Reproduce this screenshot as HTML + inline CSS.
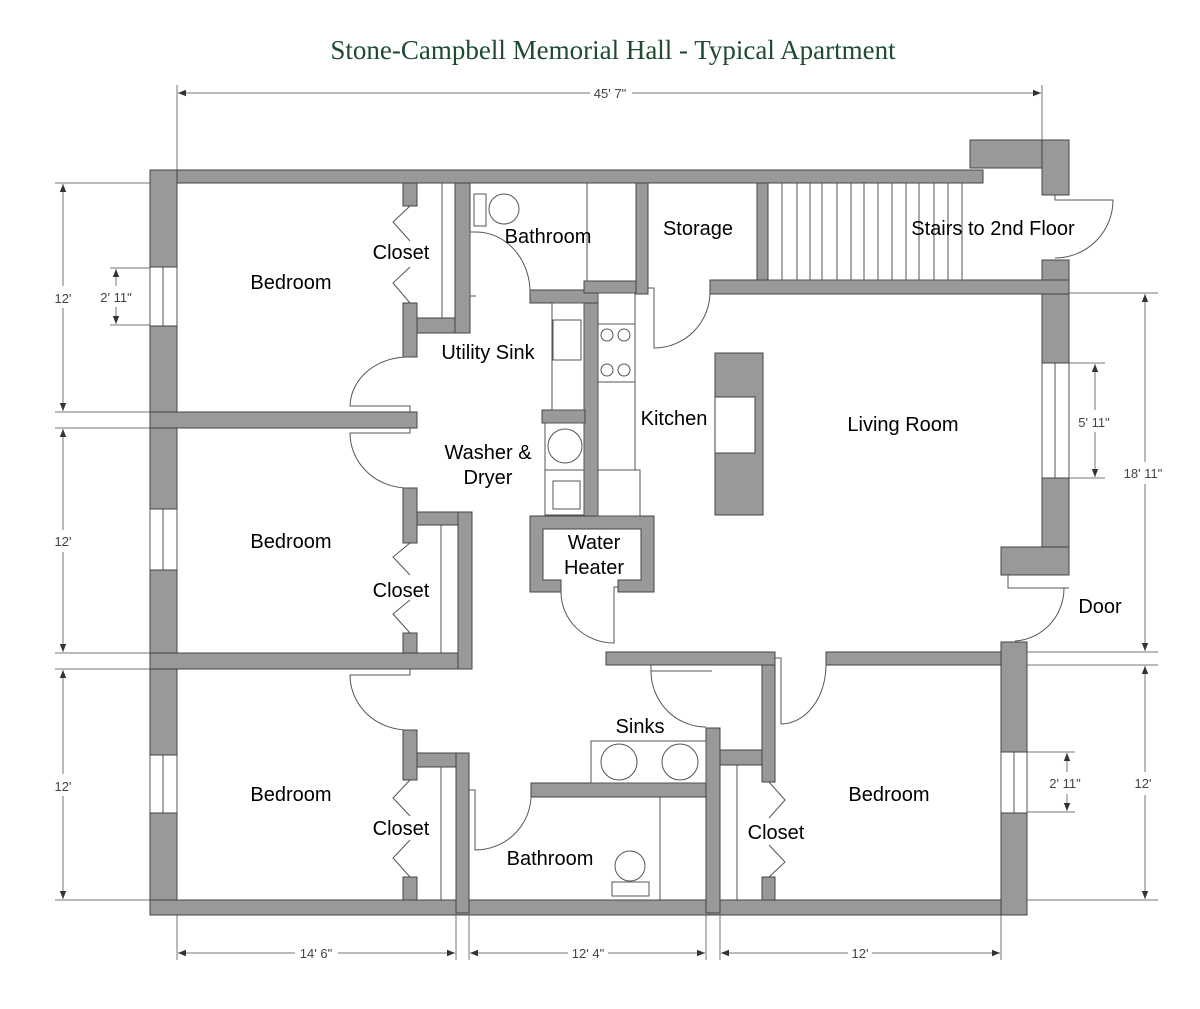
<!DOCTYPE html>
<html><head><meta charset="utf-8"><style>
html,body{margin:0;padding:0;background:#fff;}
svg{display:block;}
.w{fill:#999;stroke:#444;stroke-width:1;}
.l{fill:none;stroke:#555;stroke-width:1;}
.d{fill:none;stroke:#777;stroke-width:1;}
.t{font-family:"Liberation Sans",sans-serif;font-size:20px;fill:#000;text-anchor:middle;}
.s{font-family:"Liberation Sans",sans-serif;font-size:13px;fill:#444;text-anchor:middle;}
</style></head><body>
<svg width="1200" height="1009" viewBox="0 0 1200 1009" xmlns="http://www.w3.org/2000/svg">
<defs><marker id="a" viewBox="0 0 10 10" refX="10" refY="5" markerWidth="8" markerHeight="8" orient="auto-start-reverse"><path d="M0,1 L10,5 L0,9 z" fill="#333"/></marker></defs>
<text x="613" y="59" style="font-family:'Liberation Serif',serif;font-size:27px;fill:#1d4a30;text-anchor:middle">Stone-Campbell Memorial Hall - Typical Apartment</text>

<!-- dimension lines -->
<g class="d">
<line x1="177" y1="85" x2="177" y2="183"/><line x1="1042" y1="85" x2="1042" y2="140"/>
<line x1="178" y1="93" x2="590" y2="93" marker-start="url(#a)"/><line x1="632" y1="93" x2="1041" y2="93" marker-end="url(#a)"/>
<line x1="55" y1="183" x2="150" y2="183"/><line x1="55" y1="412" x2="150" y2="412"/><line x1="55" y1="428" x2="150" y2="428"/><line x1="55" y1="653" x2="150" y2="653"/><line x1="55" y1="669" x2="150" y2="669"/><line x1="55" y1="900" x2="150" y2="900"/>
<line x1="63" y1="184" x2="63" y2="286" marker-start="url(#a)"/><line x1="63" y1="308" x2="63" y2="411" marker-end="url(#a)"/>
<line x1="63" y1="429" x2="63" y2="530" marker-start="url(#a)"/><line x1="63" y1="552" x2="63" y2="652" marker-end="url(#a)"/>
<line x1="63" y1="670" x2="63" y2="774" marker-start="url(#a)"/><line x1="63" y1="796" x2="63" y2="899" marker-end="url(#a)"/>
<line x1="110" y1="268" x2="150" y2="268"/><line x1="110" y1="325" x2="150" y2="325"/>
<line x1="116" y1="269" x2="116" y2="286" marker-start="url(#a)"/><line x1="116" y1="307" x2="116" y2="324" marker-end="url(#a)"/>
<line x1="1069" y1="363" x2="1105" y2="363"/><line x1="1069" y1="478" x2="1105" y2="478"/>
<line x1="1095" y1="364" x2="1095" y2="410" marker-start="url(#a)"/><line x1="1095" y1="432" x2="1095" y2="477" marker-end="url(#a)"/>
<line x1="1069" y1="293" x2="1158" y2="293"/><line x1="1027" y1="652" x2="1158" y2="652"/><line x1="1027" y1="665" x2="1158" y2="665"/><line x1="1027" y1="900" x2="1158" y2="900"/>
<line x1="1145" y1="294" x2="1145" y2="462" marker-start="url(#a)"/><line x1="1145" y1="484" x2="1145" y2="651" marker-end="url(#a)"/>
<line x1="1145" y1="666" x2="1145" y2="772" marker-start="url(#a)"/><line x1="1145" y1="795" x2="1145" y2="899" marker-end="url(#a)"/>
<line x1="1027" y1="752" x2="1075" y2="752"/><line x1="1027" y1="812" x2="1075" y2="812"/>
<line x1="1067" y1="753" x2="1067" y2="772" marker-start="url(#a)"/><line x1="1067" y1="794" x2="1067" y2="811" marker-end="url(#a)"/>
<line x1="177" y1="900" x2="177" y2="960"/><line x1="456" y1="900" x2="456" y2="960"/><line x1="469" y1="900" x2="469" y2="960"/><line x1="706" y1="900" x2="706" y2="960"/><line x1="720" y1="900" x2="720" y2="960"/><line x1="1001" y1="900" x2="1001" y2="960"/>
<line x1="178" y1="953" x2="295" y2="953" marker-start="url(#a)"/><line x1="338" y1="953" x2="455" y2="953" marker-end="url(#a)"/>
<line x1="470" y1="953" x2="568" y2="953" marker-start="url(#a)"/><line x1="608" y1="953" x2="705" y2="953" marker-end="url(#a)"/>
<line x1="721" y1="953" x2="848" y2="953" marker-start="url(#a)"/><line x1="872" y1="953" x2="1000" y2="953" marker-end="url(#a)"/>
</g>
<g class="s">
<text x="610" y="98">45' 7"</text>
<text x="63" y="303">12'</text><text x="63" y="546">12'</text><text x="63" y="791">12'</text>
<text x="116" y="302">2' 11"</text>
<text x="1094" y="427">5' 11"</text><text x="1143" y="478">18' 11"</text>
<text x="1065" y="788">2' 11"</text><text x="1143" y="788">12'</text>
<text x="316" y="958">14' 6"</text><text x="588" y="958">12' 4"</text><text x="860" y="958">12'</text>
</g>

<!-- windows -->
<g class="l">
<rect x="150" y="267" width="27" height="59" fill="#fff"/><line x1="163" y1="267" x2="163" y2="326"/>
<rect x="150" y="509" width="27" height="61" fill="#fff"/><line x1="163" y1="509" x2="163" y2="570"/>
<rect x="150" y="755" width="27" height="58" fill="#fff"/><line x1="163" y1="755" x2="163" y2="813"/>
<rect x="1042" y="363" width="27" height="115" fill="#fff"/><line x1="1055" y1="363" x2="1055" y2="478"/>
<rect x="1001" y="752" width="26" height="61" fill="#fff"/><line x1="1014" y1="752" x2="1014" y2="813"/>
</g>

<!-- walls -->
<g class="w">
<rect x="150" y="170" width="833" height="13"/>
<rect x="970" y="140" width="99" height="28"/>
<rect x="1042" y="140" width="27" height="55"/>
<rect x="150" y="170" width="27" height="97"/>
<rect x="150" y="326" width="27" height="183"/>
<rect x="150" y="570" width="27" height="185"/>
<rect x="150" y="813" width="27" height="102"/>
<rect x="150" y="900" width="877" height="15"/>
<rect x="1042" y="260" width="27" height="103"/>
<rect x="1042" y="478" width="27" height="70"/>
<rect x="1001" y="547" width="68" height="28"/>
<rect x="1001" y="642" width="26" height="110"/>
<rect x="1001" y="813" width="26" height="102"/>
<!-- bedroom partitions -->
<rect x="150" y="412" width="267" height="16"/>
<rect x="150" y="653" width="322" height="16"/>
<!-- bedroom1 closet -->
<rect x="403" y="183" width="14" height="23"/>
<rect x="403" y="303" width="14" height="54"/>
<rect x="417" y="318" width="53" height="15"/>
<rect x="455" y="183" width="15" height="150"/>
<!-- bedroom2 closet -->
<rect x="403" y="488" width="14" height="55"/>
<rect x="417" y="512" width="55" height="13"/>
<rect x="458" y="512" width="14" height="157"/>
<rect x="403" y="633" width="14" height="20"/>
<!-- bedroom3 closet -->
<rect x="403" y="730" width="14" height="50"/>
<rect x="417" y="753" width="52" height="14"/>
<rect x="456" y="753" width="13" height="160"/>
<rect x="403" y="877" width="14" height="23"/>
<!-- bathroom2 / sinks -->
<rect x="531" y="783" width="189" height="14"/>
<rect x="706" y="728" width="14" height="185"/>
<rect x="720" y="750" width="42" height="15"/>
<rect x="762" y="652" width="13" height="130"/>
<rect x="606" y="652" width="169" height="13"/>
<rect x="762" y="877" width="13" height="23"/>
<rect x="826" y="652" width="175" height="13"/>
<!-- water heater -->
<path d="M530,516 H654 V592 H618 V580 H641 V529 H543 V580 H561 V592 H530 Z"/>
<rect x="584" y="293" width="14" height="223"/>
<rect x="542" y="410" width="43" height="13"/>
<!-- top bathroom / storage / stairs -->
<rect x="530" y="290" width="68" height="13"/>
<rect x="584" y="281" width="64" height="12"/>
<rect x="636" y="183" width="12" height="111"/>
<rect x="757" y="183" width="11" height="97"/>
<rect x="710" y="280" width="359" height="14"/>
<!-- island -->
<rect x="715" y="353" width="48" height="162"/>
</g>
<rect x="715" y="397" width="40" height="56" fill="#fff" stroke="#444"/>

<!-- fixtures -->
<g class="l">
<line x1="442" y1="183" x2="442" y2="318"/>
<line x1="441" y1="525" x2="441" y2="653"/>
<line x1="441" y1="767" x2="441" y2="900"/>
<line x1="737" y1="765" x2="737" y2="900"/>
<line x1="587" y1="183" x2="587" y2="281"/>
<line x1="660" y1="797" x2="660" y2="900"/>
<rect x="474" y="194" width="12" height="32"/><circle cx="504" cy="209" r="15"/>
<circle cx="630" cy="866" r="15"/><rect x="612" y="882" width="37" height="14"/>
<rect x="591" y="741" width="115" height="42"/><circle cx="619" cy="762" r="18"/><circle cx="680" cy="762" r="18"/>
<rect x="552" y="303" width="32" height="107"/><rect x="553" y="320" width="28" height="40"/>
<rect x="545" y="423" width="39" height="92"/><line x1="545" y1="470" x2="584" y2="470"/><circle cx="565" cy="446" r="17"/><rect x="553" y="481" width="27" height="28"/>
<rect x="598" y="293" width="37" height="177"/><rect x="598" y="324" width="37" height="58"/>
<circle cx="607" cy="335" r="6"/><circle cx="624" cy="335" r="6"/><circle cx="607" cy="370" r="6"/><circle cx="624" cy="370" r="6"/>
<rect x="598" y="470" width="42" height="46"/>
<!-- stairs -->
<line x1="768" y1="280" x2="962" y2="280"/>
<line x1="782" y1="183" x2="782" y2="280"/><line x1="797" y1="183" x2="797" y2="280"/><line x1="810" y1="183" x2="810" y2="280"/><line x1="822" y1="183" x2="822" y2="280"/><line x1="837" y1="183" x2="837" y2="280"/><line x1="851" y1="183" x2="851" y2="280"/><line x1="864" y1="183" x2="864" y2="280"/><line x1="878" y1="183" x2="878" y2="280"/><line x1="892" y1="183" x2="892" y2="280"/><line x1="906" y1="183" x2="906" y2="280"/><line x1="919" y1="183" x2="919" y2="280"/><line x1="934" y1="183" x2="934" y2="280"/><line x1="948" y1="183" x2="948" y2="280"/><line x1="962" y1="183" x2="962" y2="280"/>
<!-- doors -->
<path d="M410,357 A58,50 0 0 0 350,406 H410 V412"/>
<path d="M410,488 A58,55 0 0 1 350,433 H410 V428"/>
<path d="M410,730 A58,55 0 0 1 350,675 H410 V669"/>
<path d="M476,232 A54,60 0 0 1 530,292"/><path d="M476,232 H470 V296 H476"/>
<path d="M710,292 A56,56 0 0 1 654,348 V288 H648"/>
<path d="M1055,195 V200 H1113 A58,58 0 0 1 1055,258"/>
<path d="M561,592 A53,51 0 0 0 614,643 V587 H618"/>
<path d="M651,665 V671 H712 M651,671 A55,56 0 0 0 706,727"/>
<path d="M531,797 A56,55 0 0 1 475,850 V790 H469"/>
<path d="M826,665 A45,59 0 0 1 781,724 V658 H775"/>
<path d="M1008,575 V588 H1069 M1064,588 A52,53 0 0 1 1015,641"/>
<!-- folding closet doors -->
<path d="M410,206 L393,222 L410,241 M410,267 L393,283 L410,303"/>
<path d="M410,543 L393,557 L410,575 M410,600 L393,614 L410,633"/>
<path d="M410,780 L393,798 L410,816 M410,840 L393,858 L410,877"/>
<path d="M769,782 L785,800 L769,818 M769,845 L785,862 L769,877"/>
</g>

<!-- labels -->
<g class="t">
<text x="291" y="289">Bedroom</text>
<text x="401" y="259">Closet</text>
<text x="548" y="243">Bathroom</text>
<text x="698" y="235">Storage</text>
<text x="993" y="235">Stairs to 2nd Floor</text>
<text x="488" y="359">Utility Sink</text>
<text x="674" y="425">Kitchen</text>
<text x="903" y="431">Living Room</text>
<text x="488" y="459">Washer &amp;</text>
<text x="488" y="484">Dryer</text>
<text x="291" y="548">Bedroom</text>
<text x="401" y="597">Closet</text>
<text x="594" y="549">Water</text>
<text x="594" y="574">Heater</text>
<text x="1100" y="613">Door</text>
<text x="640" y="733">Sinks</text>
<text x="291" y="801">Bedroom</text>
<text x="889" y="801">Bedroom</text>
<text x="401" y="835">Closet</text>
<text x="776" y="839">Closet</text>
<text x="550" y="865">Bathroom</text>
</g>
</svg>
</body></html>
